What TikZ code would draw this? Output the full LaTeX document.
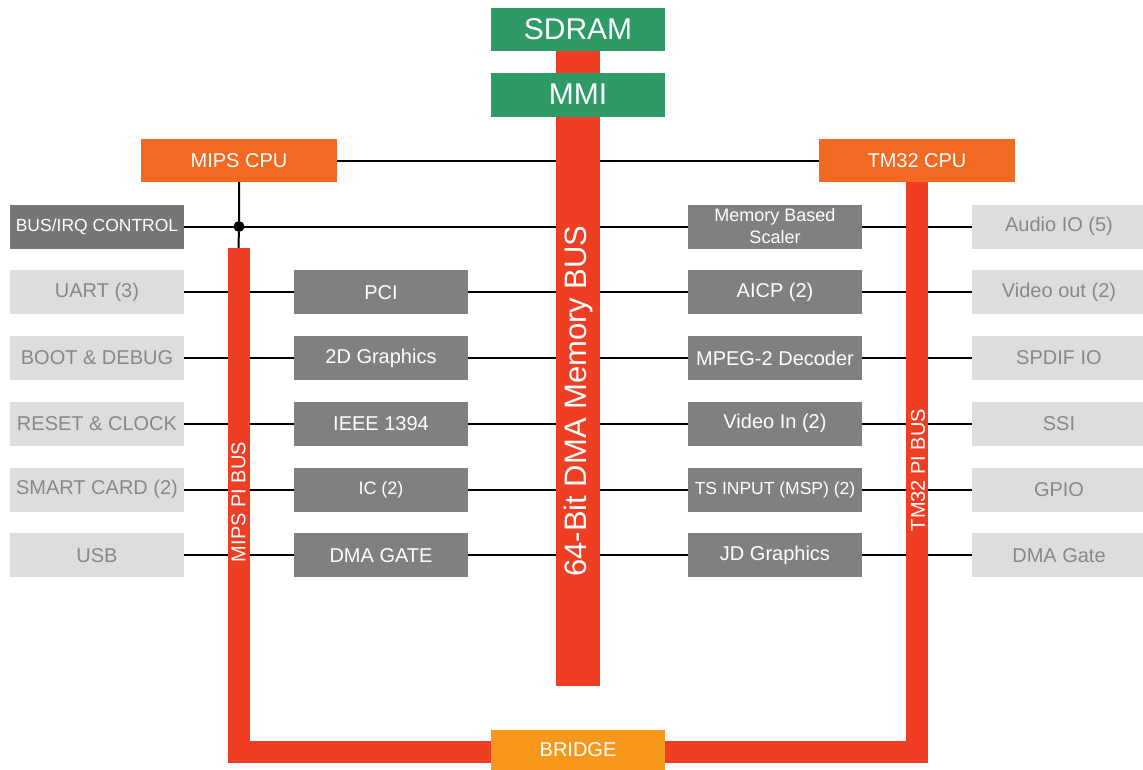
\documentclass[tikz,border=0pt]{standalone}
\usepackage{fontspec}
\setmainfont{Liberation Sans}
\usetikzlibrary{positioning,backgrounds}
\definecolor{memgreen}{RGB}{46,154,102}
\definecolor{busred}{RGB}{239,62,35}
\definecolor{cpuorange}{RGB}{242,105,34}
\definecolor{bridgeorange}{RGB}{247,152,29}
\definecolor{blkgray}{RGB}{128,128,128}
\definecolor{ctlgray}{RGB}{118,118,118}
\definecolor{iogray}{RGB}{221,221,221}
\definecolor{iotext}{RGB}{136,136,136}

\begin{document}
\begin{tikzpicture}[
  x=1pt, y=-1pt,
  node distance=21.75pt and 110pt,
  box/.style={rectangle, inner sep=0pt, outer sep=0pt, minimum width=174pt, minimum height=44pt, align=center, font=\fontsize{20}{22}\selectfont},
  mem/.style={box, fill=memgreen, text=white, minimum height=43pt, font=\fontsize{30}{32}\selectfont},
  cpu/.style={box, fill=cpuorange, text=white, minimum width=196pt, minimum height=43pt},
  blk/.style={box, fill=blkgray, text=white},
  io/.style={box, fill=iogray, text=iotext},
  bus/.style={rectangle, fill=busred, inner sep=0pt, outer sep=0pt},
  buslbl/.style={text=white, inner sep=0pt, font=\fontsize{31}{33}\selectfont},
  pilbl/.style={text=white, inner sep=0pt, font=\fontsize{20}{22}\selectfont},
  wire/.style={black, line width=2pt},
  pibus/.style={busred, line width=22pt, line join=miter},
  link/.style={busred, line width=44pt},
  dot/.style={circle, fill=black, inner sep=0pt, minimum size=11pt}
]
  \useasboundingbox (0,0) rectangle (1143,769);

  % --- 1. MEMORY SIDE (Top) ---
  \node[mem] (sdram) at (578,29.5) {SDRAM};
  \node[mem, minimum height=44pt, below=21.5pt of sdram] (mmi) {MMI};
  \draw[link] (sdram.south) -- (mmi.north);
  \node[bus, minimum width=44pt, minimum height=569pt, below=0pt of mmi] (dma) {};
  \node[buslbl, rotate=90] (dmalbl) at (dma.center) {64-Bit DMA Memory BUS};

  % --- 2. CPUS ---
  \node[cpu] (mipscpu) at (239,160.5) {MIPS CPU};
  \node[cpu] (tmcpu) at (917,160.5) {TM32 CPU};

  % --- 3. LEFT SIDE (MIPS) ---
  \node[box, fill=ctlgray, text=white, font=\fontsize{17.5}{20}\selectfont] (busirq) at (97,226.5) {BUS/IRQ CONTROL};
  \node[io, below=of busirq] (uart) {UART (3)};
  \node[io, below=of uart] (boot) {BOOT \& DEBUG};
  \node[io, below=of boot] (reset) {RESET \& CLOCK};
  \node[io, below=of reset] (smart) {SMART CARD (2)};
  \node[io, below=of smart] (usb) {USB};

  \node[blk, right=of uart] (pci) {PCI};
  \node[blk, right=of boot] (gfx) {2D Graphics};
  \node[blk, right=of reset] (ieee) {IEEE 1394};
  \node[blk, right=of smart, font=\fontsize{18}{20}\selectfont] (ic) {IC (2)};
  \node[blk, right=of usb] (dmagate) {DMA GATE};

  % --- 4. RIGHT SIDE (TM32) ---
  \node[blk, font=\fontsize{18}{22}\selectfont] (scaler) at (775,226.5) {Memory Based\\Scaler};
  \node[blk, below=of scaler] (aicp) {AICP (2)};
  \node[blk, below=of aicp] (mpeg) {MPEG-2 Decoder};
  \node[blk, below=of mpeg] (vin) {Video In (2)};
  \node[blk, below=of vin, font=\fontsize{17.5}{20}\selectfont] (tsin) {TS INPUT (MSP) (2)};
  \node[blk, below=of tsin] (jd) {JD Graphics};

  \node[io, right=of scaler] (audio) {Audio IO (5)};
  \node[io, right=of aicp] (vout) {Video out (2)};
  \node[io, right=of mpeg] (spdif) {SPDIF IO};
  \node[io, right=of vin] (ssi) {SSI};
  \node[io, right=of tsin] (gpio) {GPIO};
  \node[io, right=of jd] (dmagt) {DMA Gate};

  % --- 5. PI BUSES + BRIDGE (Bottom) ---
  \coordinate (mipstop) at (238.5,248);
  \coordinate (mipsbot) at (238.5,752);
  \draw[pibus] (mipstop) -- (mipsbot) -- (mipsbot -| tmcpu.south) -- (tmcpu.south);
  \node[pilbl, rotate=90] (mipslbl) at (238.5,502) {MIPS PI BUS};
  \node[pilbl, rotate=90] (tmlbl) at (918,470) {TM32 PI BUS};
  \node[box, fill=bridgeorange, text=white, minimum height=40pt] (bridge) at (578,750) {BRIDGE};

  \node[dot] (junction) at (mipscpu.south |- busirq.east) {};

  % Connections (behind the buses)
  \begin{scope}[on background layer]
    \draw[wire] (mipscpu.east) -- (tmcpu.west);
    \draw[wire] (mipscpu.south) -- (junction) -- (mipstop);
    \draw[wire] (busirq.east) -- (scaler.west);
    \draw[wire] (scaler.east) -- (audio.west);

    \draw[wire] (uart.east) -- (pci.west);
    \draw[wire] (boot.east) -- (gfx.west);
    \draw[wire] (reset.east) -- (ieee.west);
    \draw[wire] (smart.east) -- (ic.west);
    \draw[wire] (usb.east) -- (dmagate.west);

    \draw[wire] (pci.east) -- (aicp.west);
    \draw[wire] (gfx.east) -- (mpeg.west);
    \draw[wire] (ieee.east) -- (vin.west);
    \draw[wire] (ic.east) -- (tsin.west);
    \draw[wire] (dmagate.east) -- (jd.west);

    \draw[wire] (aicp.east) -- (vout.west);
    \draw[wire] (mpeg.east) -- (spdif.west);
    \draw[wire] (vin.east) -- (ssi.west);
    \draw[wire] (tsin.east) -- (gpio.west);
    \draw[wire] (jd.east) -- (dmagt.west);
  \end{scope}

\end{tikzpicture}
\end{document}
